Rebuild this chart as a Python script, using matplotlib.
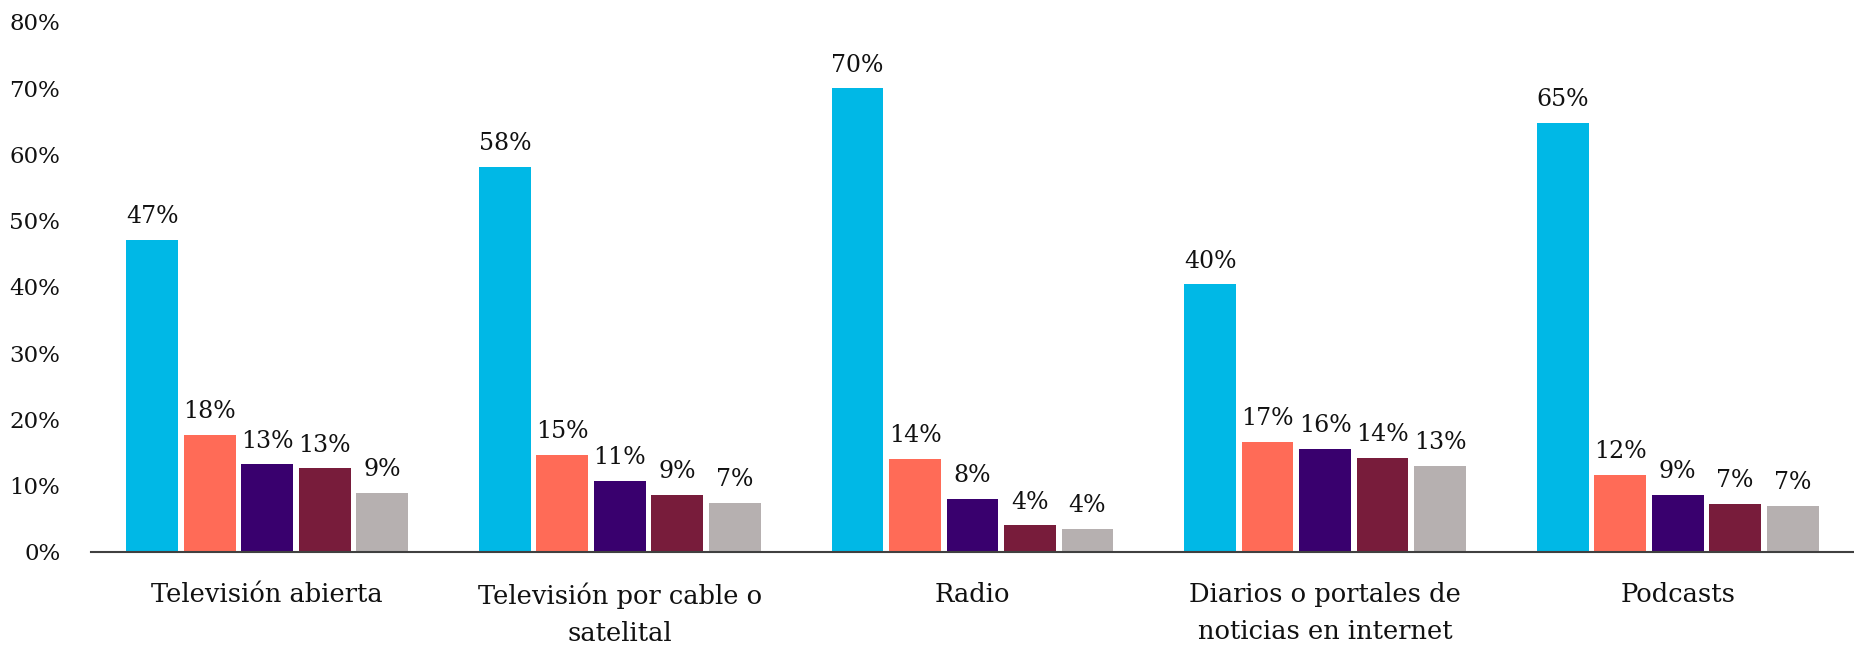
import numpy as np
import matplotlib.pyplot as plt
from matplotlib.ticker import PercentFormatter

# categories and series values (share of respondents, %)
categories = ['Televisión abierta', 'Televisión por cable o\nsatelital', 'Radio',
              'Diarios o portales de\nnoticias en internet', 'Podcasts']
serie_1 = [47.1, 58.1, 70.0, 40.4, 64.8]
serie_2 = [17.7, 14.7, 14.0, 16.6, 11.6]
serie_3 = [13.2, 10.7, 8.0, 15.6, 8.6]
serie_4 = [12.6, 8.6, 4.0, 14.2, 7.3]
serie_5 = [8.9, 7.4, 3.5, 13.0, 7.0]

series = [serie_1, serie_2, serie_3, serie_4, serie_5]
colors = ['#00B8E6', '#FF6B57', '#39006E', '#781C3B', '#B6B0B0']

plt.rcParams['font.family'] = ['DejaVu Serif']

fig = plt.figure(figsize=(18.54, 6.47), dpi=100)
ax = fig.add_axes([0.049, 0.147, 0.951, 0.819])

x = np.arange(len(categories))
slot = 0.163
for i, (vals, c) in enumerate(zip(series, colors)):
    pos = x + (i - 2) * slot
    ax.bar(pos, vals, width=slot * 0.9, color=c)
    for px, v in zip(pos, vals):
        ax.annotate(f'{round(v):.0f}%', (px, v), xytext=(0, 12), textcoords='offset points',
                    ha='center', va='baseline', fontsize=17, color='#111111')

ax.set_xlim(-0.5, 4.5)
ax.set_ylim(0, 80)
ax.set_yticks(np.arange(0, 81, 10))
ax.yaxis.set_major_formatter(PercentFormatter(decimals=0))
ax.set_xticks(x)
ax.set_xticklabels(categories, fontsize=18.5, linespacing=1.6)

for s in ['top', 'right', 'left']:
    ax.spines[s].set_visible(False)
ax.spines['bottom'].set_color('#404040')
ax.spines['bottom'].set_linewidth(1.5)
ax.tick_params(axis='both', length=0, colors='#111111')
ax.tick_params(axis='y', labelsize=16.5, pad=22)
ax.tick_params(axis='x', pad=22)

fig.savefig('out.png', dpi=100)
